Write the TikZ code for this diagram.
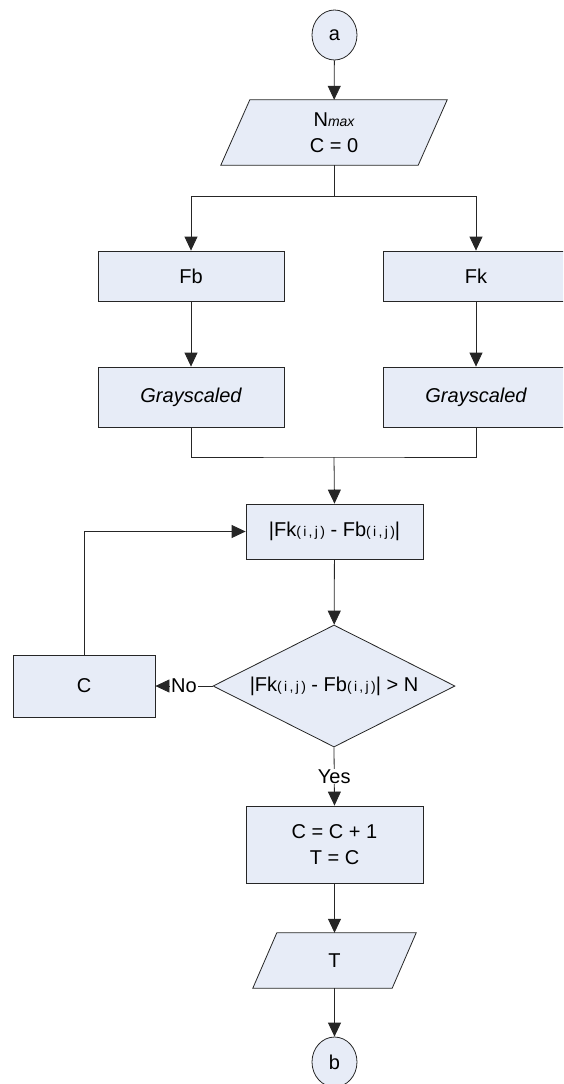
\documentclass[tikz,border=0pt]{standalone}
\usepackage{fontspec}
\setmainfont{Liberation Sans}
\usetikzlibrary{shapes.geometric,arrows.meta,backgrounds}

\newcommand{\idxij}{{\fontsize{14}{14}\selectfont(\,i\,,\,j\,)}}
\definecolor{boxfill}{RGB}{231,236,247}

\tikzset{
  every node/.style={font=\fontsize{20}{26}\selectfont},
  shapebox/.style={draw=black!85, fill=boxfill, line width=0.8pt},
  procbox/.style={shapebox, rectangle, inner sep=0pt, align=center},
  iobox/.style={rectangle, inner sep=0pt, align=center},
  decbox/.style={shapebox, diamond, shape aspect=2, inner sep=0pt},
  connbox/.style={shapebox, ellipse, inner sep=0pt, minimum width=45pt, minimum height=50pt},
  flow/.style={line width=0.8pt, draw=black!85, -{Triangle[length=14pt,width=13pt]}},
  plain/.style={line width=0.8pt, draw=black!85},
  lbl/.style={fill=white, inner sep=1pt}
}
% parallelogram behind an io node: #1 = node, #2 = half slant
\newcommand{\iofill}[2]{%
  \begin{scope}[on background layer]
  \draw[shapebox] ([xshift=-#2]#1.south west) -- ([xshift=#2]#1.north west)
    -- ([xshift=#2]#1.north east) -- ([xshift=-#2]#1.south east) -- cycle;
  \end{scope}}

\begin{document}
\begin{tikzpicture}[x=1pt,y=-1pt]
\clip (0,0) rectangle (563,1084);
\node[connbox] (a) at (334.5,35) {a};
\node[iobox, minimum width=197pt, minimum height=65pt] (nmax) at (334,132.5)
  {N{\fontsize{14}{14}\selectfont\itshape max}\\C = 0};
\iofill{nmax}{14.5pt}
\node[procbox, minimum width=186pt, minimum height=50pt] (fb) at (191,276) {Fb};
\node[procbox, minimum width=186pt, minimum height=50pt] (fk) at (476,276) {Fk};
\node[procbox, minimum width=186pt, minimum height=60pt] (grayb) at (191,397) {\itshape Grayscaled};
\node[procbox, minimum width=186pt, minimum height=60pt] (grayk) at (476,397) {\itshape Grayscaled};
\node[procbox, minimum width=177pt, minimum height=55pt] (diff) at (334.5,531.5)
  {|Fk\idxij{} - Fb\idxij|};
\node[decbox, minimum width=242pt, minimum height=122pt] (test) at (334,686)
  {|Fk\idxij{} - Fb\idxij| > N};
\node[procbox, minimum width=142pt, minimum height=62pt] (cnt) at (84,686) {C};
\node[procbox, minimum width=177pt, minimum height=77pt] (inc) at (334.5,844.5)
  {C = C + 1\\T = C};
\node[iobox, minimum width=139pt, minimum height=55pt] (tout) at (334.5,960.5) {T};
\iofill{tout}{12pt}
\node[connbox] (b) at (334.5,1062) {b};

\coordinate (split) at (334,196);
\coordinate (join) at (334,457);
\draw[flow] (a) -- (nmax);
\draw[plain] (nmax.south) -- (split);
\draw[flow] (split) -| (fb.north);
\draw[flow] (split) -| (fk.north);
\draw[flow] (fb) -- (grayb);
\draw[flow] (fk) -- (grayk);
\draw[plain] (grayb.south) |- (join) -| (grayk.south);
\draw[flow] (join) -- (diff.north);
\draw[flow] (diff) -- (test);
\draw[flow] (test.west) -- node[lbl] {No} (cnt.east);
\draw[flow] (cnt.north) |- (diff.west);
\draw[flow] (test.south) -- node[lbl] {Yes} (inc.north);
\draw[flow] (inc) -- (tout);
\draw[flow] (tout) -- (b);
\end{tikzpicture}
\end{document}
